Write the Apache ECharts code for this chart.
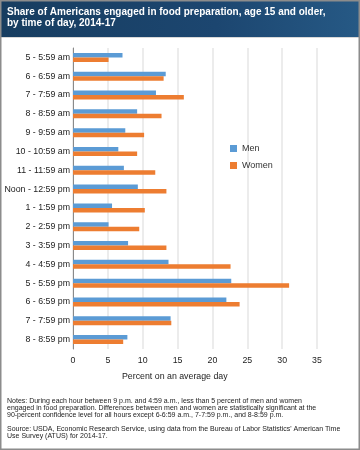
<!DOCTYPE html>
<html>
<head>
<meta charset="utf-8">
<script src="https://cdn.jsdelivr.net/npm/echarts@6/dist/echarts.min.js"></script>
<style>
html,body{margin:0;padding:0;background:#fff;}
#chart{width:360px;height:450px;}
</style>
</head>
<body>
<div id="chart"></div>
<script>
var categories = ['5 - 5:59 am','6 - 6:59 am','7 - 7:59 am','8 - 8:59 am','9 - 9:59 am','10 - 10:59 am','11 - 11:59 am','Noon - 12:59 pm','1 - 1:59 pm','2 - 2:59 pm','3 - 3:59 pm','4 - 4:59 pm','5 - 5:59 pm','6 - 6:59 pm','7 - 7:59 pm','8 - 8:59 pm'];
var men   = [7.1, 13.3, 11.9, 9.2, 7.5, 6.5, 7.3, 9.3, 5.6, 5.1, 7.9, 13.7, 22.7, 22.0, 14.0, 7.8];
var women = [5.1, 13.0, 15.9, 12.7, 10.2, 9.2, 11.8, 13.4, 10.3, 9.5, 13.4, 22.6, 31.0, 23.9, 14.1, 7.2];
var xTicks = [0, 5, 10, 15, 20, 25, 30, 35];

var titleText = 'Share of Americans engaged in food preparation, age 15 and older,\nby time of day, 2014-17';
var notesText = 'Notes: During each hour between 9 p.m. and 4:59 a.m., less than 5 percent of men and women\nengaged in food preparation. Differences between men and women are statistically significant at the\n90-percent confidence level for all hours except 6-6:59 a.m., 7-7:59 p.m., and 8-8:59 p.m.';
var sourceText = 'Source: USDA, Economic Research Service, using data from the Bureau of Labor Statistics\' American Time\nUse Survey (ATUS) for 2014-17.';

var FONT = '"Liberation Sans", Arial, Helvetica, sans-serif';
var chart = echarts.init(document.getElementById('chart'));
chart.setOption({
  animation: false,
  textStyle: {fontFamily: FONT},
  graphic: [
    {type:'rect', z:-1, shape:{x:0,y:0,width:360,height:37},
     style:{fill:new echarts.graphic.LinearGradient(0,0,1,0,[{offset:0,color:'#173d60'},{offset:0.6,color:'#1c4670'},{offset:1,color:'#265985'}])}},
    {type:'rect', z:-1, shape:{x:0,y:37,width:360,height:1}, style:{fill:'#d8d8d8'}},
    {type:'rect', z:10, shape:{x:0.75,y:0.75,width:358.5,height:448.5}, style:{fill:null, stroke:'#8c8c8c', lineWidth:1.5}},
    {type:'text', left:7, top:7, style:{text:titleText, fill:'#ffffff', font:'bold 10px ' + FONT, lineHeight:10.7}},
    {type:'text', left:122, top:372, style:{text:'Percent on an average day', fill:'#222', font:'8.8px ' + FONT, textAlign:'center'}},
    {type:'text', left:7, top:397, style:{text:notesText, fill:'#222', font:'7px ' + FONT, lineHeight:7.2}},
    {type:'text', left:7, top:425, style:{text:sourceText, fill:'#222', font:'7px ' + FONT, lineHeight:7.4}}
  ],
  legend: {
    orient:'vertical', left:225, top:139, itemWidth:7, itemHeight:7, itemGap:8,
    icon:'rect',
    textStyle:{fontSize:9, color:'#333', fontFamily:FONT},
    data:['Men','Women']
  },
  grid: {left:73, right:43, top:48, bottom:101, containLabel:false},
  xAxis: {
    type:'value', min:0, max:35, interval:5,
    axisLine:{show:false}, axisTick:{show:false},
    axisLabel:{fontSize:8.8, color:'#222', margin:7, fontFamily:FONT,
      formatter:function(v){return xTicks.indexOf(v) >= 0 ? String(v) : '';}},
    splitLine:{lineStyle:{color:'#e6e6e6', width:1.5}}
  },
  yAxis: {
    type:'category', inverse:true, data:categories,
    axisLine:{lineStyle:{color:'#8a8a8a', width:1}}, axisTick:{show:false},
    axisLabel:{fontSize:8.8, color:'#222', margin:3, fontFamily:FONT}
  },
  series: [
    {name:'Men', type:'bar', data:men, barWidth:4.5, barGap:'0%', itemStyle:{color:'#5b9bd5'}},
    {name:'Women', type:'bar', data:women, barWidth:4.5, barGap:'0%', itemStyle:{color:'#ed7d31'}}
  ]
});
</script>
</body>
</html>
